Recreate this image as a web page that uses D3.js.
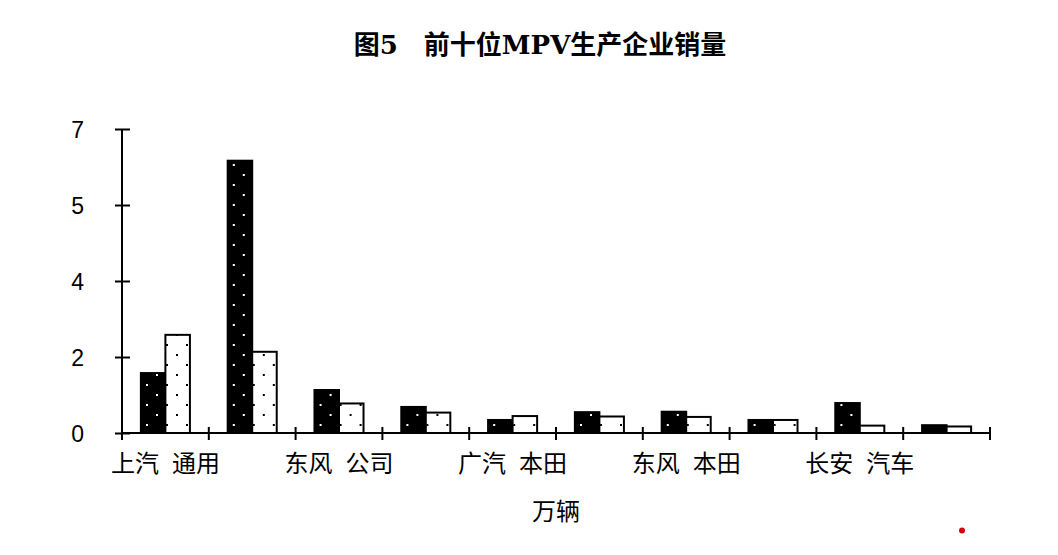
<!DOCTYPE html>
<html>
<head>
<meta charset="utf-8">
<script src="https://cdn.jsdelivr.net/npm/d3@7"></script>
<style>
    body { margin: 0; background: #fff; }
</style>
</head>
<body>
<div id="chart"></div>
<script>
// only every other category name is printed under the axis in the original
const categories = ['上汽通用', '上汽通用五菱', '东风公司', '江淮汽车', '广汽本田',
    '长安福特', '东风本田', '北汽福田', '长安汽车', '华晨汽车'];
const series = ['black', 'white'];
const blackValues = [1.38, 6.27, 0.99, 0.60, 0.30, 0.48, 0.49, 0.30, 0.69, 0.18];
const whiteValues = [2.26, 1.87, 0.68, 0.47, 0.39, 0.38, 0.37, 0.30, 0.17, 0.15];
// ticks split 0..7 into four steps, labels are rounded like in the source
const yTicks = [0, 1.75, 3.5, 5.25, 7];
const yTickLabels = ['0', '2', '4', '5', '7'];

const width = 1058;
const height = 555;
const margin = {top: 129, right: 68, bottom: 122, left: 122};

const svg = d3.select('#chart').append('svg')
    .attr('width', width)
    .attr('height', height);

const defs = svg.append('defs');

function addDotPattern(id, bg, dot) {
    const p = defs.append('pattern')
        .attr('id', id)
        .attr('patternUnits', 'userSpaceOnUse')
        .attr('width', 20)
        .attr('height', 20);
    p.append('rect').attr('width', 20).attr('height', 20).style('fill', bg);
    [[5, 5], [15, 15]].forEach(d => {
        p.append('rect')
            .attr('x', d[0] - 1)
            .attr('y', d[1] - 1)
            .attr('width', 2)
            .attr('height', 2)
            .style('fill', dot);
    });
}
addDotPattern('dots-black', '#000', '#fff');
addDotPattern('dots-white', '#fff', '#000');

const x = d3.scaleBand()
    .domain(categories)
    .range([margin.left, width - margin.right]);

const xSub = d3.scaleBand()
    .domain(series)
    .range([0, x.bandwidth()])
    .paddingOuter(0.77);

const y = d3.scaleLinear()
    .domain([0, 7])
    .range([height - margin.bottom, margin.top]);

// title
const title = svg.append('text')
    .attr('x', 540)
    .attr('y', 54)
    .attr('text-anchor', 'middle')
    .style('font-family', '"Noto Sans CJK SC", sans-serif')
    .style('font-weight', 700)
    .style('font-size', '26px');
title.append('tspan').text('图');
title.append('tspan').style('font-family', '"DejaVu Serif", serif').text('5');
title.append('tspan').text('　前十位');
title.append('tspan').style('font-family', '"DejaVu Serif", serif').text('MPV');
title.append('tspan').text('生产企业销量');

// bars
const rows = categories.map((c, i) => ({
    category: c,
    values: [
        {key: 'black', value: blackValues[i]},
        {key: 'white', value: whiteValues[i]}
    ]
}));

const groups = svg.append('g')
    .selectAll('g')
    .data(rows)
    .join('g')
    .attr('transform', d => 'translate(' + x(d.category) + ',0)');

groups.selectAll('rect')
    .data(d => d.values)
    .join('rect')
    .attr('x', d => xSub(d.key))
    .attr('y', d => y(d.value))
    .attr('width', xSub.bandwidth())
    .attr('height', d => y(0) - y(d.value))
    .style('fill', d => d.key === 'black' ? 'url(#dots-black)' : 'url(#dots-white)')
    .style('stroke', '#000')
    .style('stroke-width', 2);

// y axis
const yAxis = svg.append('g')
    .attr('transform', 'translate(' + margin.left + ',0)')
    .call(d3.axisLeft(y)
        .tickValues(yTicks)
        .tickFormat((d, i) => yTickLabels[i])
        .tickSize(7)
        .tickPadding(31));
yAxis.select('.domain').attr('d', 'M0,' + y(7) + 'V' + y(0)).style('stroke-width', 2);
yAxis.selectAll('.tick line').attr('x1', 8).style('stroke-width', 2);
yAxis.selectAll('.tick text')
    .attr('dy', '0.38em')
    .style('font-family', '"Liberation Sans", Arial, sans-serif')
    .style('font-size', '23px')
    .style('fill', '#000');

// x axis: ticks at band edges, labels on every other band
const xAxis = svg.append('g')
    .attr('transform', 'translate(0,' + y(0) + ')')
    .call(d3.axisBottom(x)
        .tickValues(categories.filter((d, i) => i % 2 === 0))
        .tickSize(0));
xAxis.select('.domain')
    .attr('d', 'M' + x.range()[0] + ',0H' + x.range()[1])
    .style('stroke-width', 2);

const edges = categories.map(c => x(c)).concat([x.range()[1]]);
xAxis.selectAll('line.edge')
    .data(edges)
    .join('line')
    .attr('class', 'edge')
    .attr('x1', d => d)
    .attr('x2', d => d)
    .attr('y1', -6)
    .attr('y2', 7)
    .style('stroke', '#000')
    .style('stroke-width', 2);

xAxis.selectAll('.tick text')
    .attr('y', 39)
    .attr('dy', 0)
    .style('font-family', '"Noto Sans CJK SC", sans-serif')
    .style('font-size', '24px')
    .style('fill', '#000')
    .each(function (d) {
        const t = d3.select(this);
        t.text(null);
        t.append('tspan').text(d.slice(0, 2));
        t.append('tspan').attr('dx', 13).text(d.slice(2));
    });

// unit label
svg.append('text')
    .attr('x', (x.range()[0] + x.range()[1]) / 2)
    .attr('y', 520)
    .attr('text-anchor', 'middle')
    .style('font-family', '"Noto Sans CJK SC", sans-serif')
    .style('font-size', '24px')
    .text('万辆');

// small red mark in the bottom right corner of the source image
svg.append('circle')
    .attr('cx', 962)
    .attr('cy', 530.5)
    .attr('r', 3)
    .style('fill', '#d7000f');
</script>
</body>
</html>
